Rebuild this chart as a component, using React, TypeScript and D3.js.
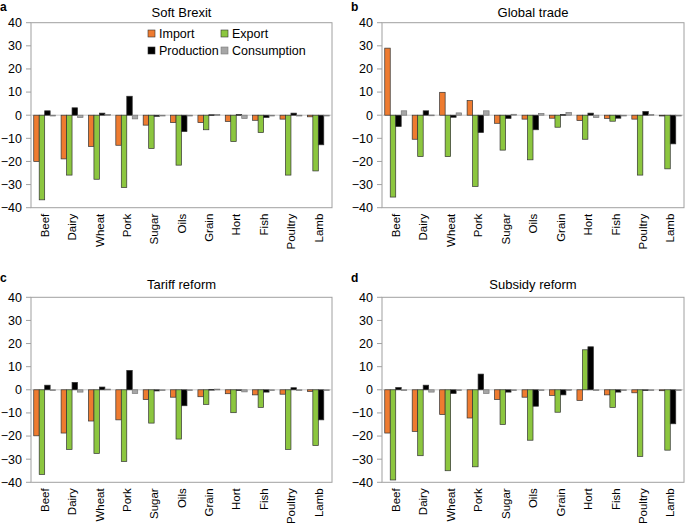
import React from "react";
import * as d3 from "d3";

const categories = ["Beef", "Dairy", "Wheat", "Pork", "Sugar", "Oils", "Grain", "Hort", "Fish", "Poultry", "Lamb"];
const seriesNames = ["Import", "Export", "Production", "Consumption"];
const seriesColors = ["#EE7B30", "#8CC63F", "#000000", "#A6A6A6"];
const yTicks = [-40, -30, -20, -10, 0, 10, 20, 30, 40];

// Soft Brexit
const softImport = [-20.0, -18.9, -13.5, -13.0, -4.3, -3.2, -3.2, -2.7, -2.2, -1.7, -0.7];
const softExport = [-36.6, -25.9, -27.7, -31.3, -14.4, -21.6, -6.3, -11.4, -7.5, -25.9, -24.1];
const softProduction = [1.9, 3.2, 0.9, 8.2, -0.5, -7.1, 0.2, 0.3, -1.0, 0.9, -12.8];
const softConsumption = [-0.3, -1.0, 0.3, -1.6, -0.3, -0.3, 0.3, -1.4, -0.3, -0.2, -0.2];

// Global trade
const globalImport = [29.0, -10.4, 9.9, 6.3, -3.5, -1.7, -1.3, -2.3, -1.4, -1.7, -0.3];
const globalExport = [-35.4, -17.9, -17.9, -30.8, -15.1, -19.3, -5.2, -10.4, -2.6, -25.9, -23.2];
const globalProduction = [-4.9, 1.9, -0.9, -7.5, -1.4, -6.3, 0.3, 0.9, -1.3, 1.6, -12.4];
const globalConsumption = [1.9, 0.1, 1.0, 1.9, 0.4, 0.8, 1.2, -1.0, -0.2, 0.3, -0.2];

// Tariff reform
const tariffImport = [-19.9, -18.7, -13.5, -13.0, -4.2, -3.2, -3.0, -1.7, -2.2, -1.9, -0.7];
const tariffExport = [-36.6, -25.8, -27.5, -31.0, -14.4, -21.3, -6.3, -9.9, -7.6, -25.8, -24.1];
const tariffProduction = [2.0, 3.2, 1.2, 8.4, -0.5, -6.9, 0.2, -0.1, -1.0, 0.9, -13.0];
const tariffConsumption = [-0.3, -1.0, 0.3, -1.6, -0.3, -0.3, 0.3, -0.9, -0.3, -0.3, -0.2];

// Subsidy reform
const subsidyImport = [-18.7, -18.0, -10.7, -12.2, -4.2, -3.2, -2.4, -4.6, -2.2, -1.3, -0.4];
const subsidyExport = [-39.0, -28.5, -35.0, -33.3, -15.0, -21.8, -9.7, 17.3, -7.6, -28.8, -26.1];
const subsidyProduction = [1.0, 2.0, -1.6, 6.8, -1.0, -7.1, -2.2, 18.6, -1.0, -0.3, -14.7];
const subsidyConsumption = [-0.3, -1.0, -0.3, -1.6, -0.3, -0.2, 0.1, -0.3, -0.3, -0.2, -0.1];

const panels = [
  { letter: "a", title: "Soft Brexit", series: [softImport, softExport, softProduction, softConsumption], x0: 31, x1: 332, y0: 22.7, y1: 207.7, legend: true, titleY: 16.5, letterY: 11 },
  { letter: "b", title: "Global trade", series: [globalImport, globalExport, globalProduction, globalConsumption], x0: 382, x1: 684, y0: 22.7, y1: 207.7, legend: false, titleY: 16.5, letterY: 11 },
  { letter: "c", title: "Tariff reform", series: [tariffImport, tariffExport, tariffProduction, tariffConsumption], x0: 31, x1: 332, y0: 297.3, y1: 482.3, legend: false, titleY: 288.5, letterY: 282 },
  { letter: "d", title: "Subsidy reform", series: [subsidyImport, subsidyExport, subsidyProduction, subsidyConsumption], x0: 382, x1: 684, y0: 297.3, y1: 482.3, legend: false, titleY: 288.5, letterY: 282 },
];

const FONT = "'Liberation Sans', Arial, Helvetica, sans-serif";

function Panel({ p }: { p: typeof panels[number] }) {
  const x = d3.scaleBand<string>().domain(categories).range([p.x0, p.x1]).paddingInner(0.2).paddingOuter(0.1);
  const inner = d3.scaleBand<number>().domain([0, 1, 2, 3]).range([0, x.bandwidth()]).padding(0);
  const y = d3.scaleLinear().domain([-40, 40]).range([p.y1, p.y0]);
  const cx = (p.x0 + p.x1) / 2;
  return (
    <g>
      <text x={p.x0 - 31} y={p.letterY} fontSize={12} fontWeight="bold" fontFamily={FONT}>{p.letter}</text>
      <text x={cx} y={p.titleY} fontSize={13} textAnchor="middle" fontFamily={FONT}>{p.title}</text>
      <rect x={p.x0} y={p.y0} width={p.x1 - p.x0} height={p.y1 - p.y0} fill="none" stroke="#A0A0A0" strokeWidth={1} />
      {yTicks.map((t) => (
        <g key={t}>
          <line x1={p.x0 - 5} x2={p.x0} y1={y(t)} y2={y(t)} stroke="#A0A0A0" />
          <text x={p.x0 - 9} y={y(t)} dy="0.35em" fontSize={12.5} textAnchor="end" fontFamily={FONT}>
            {t < 0 ? "\u2212" + Math.abs(t) : String(t)}
          </text>
        </g>
      ))}
      <line x1={p.x0} x2={p.x1} y1={y(0)} y2={y(0)} stroke="#C8C8C8" strokeWidth={1} />
      {p.series.map((vals, si) =>
        vals.map((v, ci) => {
          const bx = (x(categories[ci]) as number) + (inner(si) as number);
          const top = y(Math.max(0, v));
          const h = Math.abs(y(v) - y(0));
          return (
            <rect
              key={si + "-" + ci}
              x={bx}
              y={top}
              width={inner.bandwidth()}
              height={Math.max(h, 0.8)}
              fill={seriesColors[si]}
              stroke={si === 3 ? "#7A7A7A" : "#333333"}
              strokeWidth={0.7}
            />
          );
        })
      )}
      {categories.map((c) => {
        const lx = (x(c) as number) + x.bandwidth() / 2;
        return (
          <text key={c} transform={`translate(${lx + 4.2},${p.y1 + 6}) rotate(-90)`} fontSize={11.5} textAnchor="end" fontFamily={FONT}>
            {c}
          </text>
        );
      })}
      {p.legend && (
        <g fontFamily={FONT} fontSize={12.5}>
          {seriesNames.map((s, i) => {
            const lx = i % 2 === 0 ? 148 : 221;
            const ly = i < 2 ? 34 : 51;
            return (
              <g key={s}>
                <rect x={lx} y={ly - 4} width={7} height={7} fill={seriesColors[i]} stroke={i === 3 ? "#7A7A7A" : "#333"} strokeWidth={0.6} />
                <text x={lx + 11} y={ly} dy="0.35em">{s}</text>
              </g>
            );
          })}
        </g>
      )}
    </g>
  );
}

export default function App() {
  return (
    <svg width={685} height={525} style={{ position: "absolute", left: 0, top: 0, background: "#fff" }}>
      <rect width={685} height={525} fill="#fff" />
      {panels.map((p) => (
        <Panel key={p.letter} p={p} />
      ))}
    </svg>
  );
}
